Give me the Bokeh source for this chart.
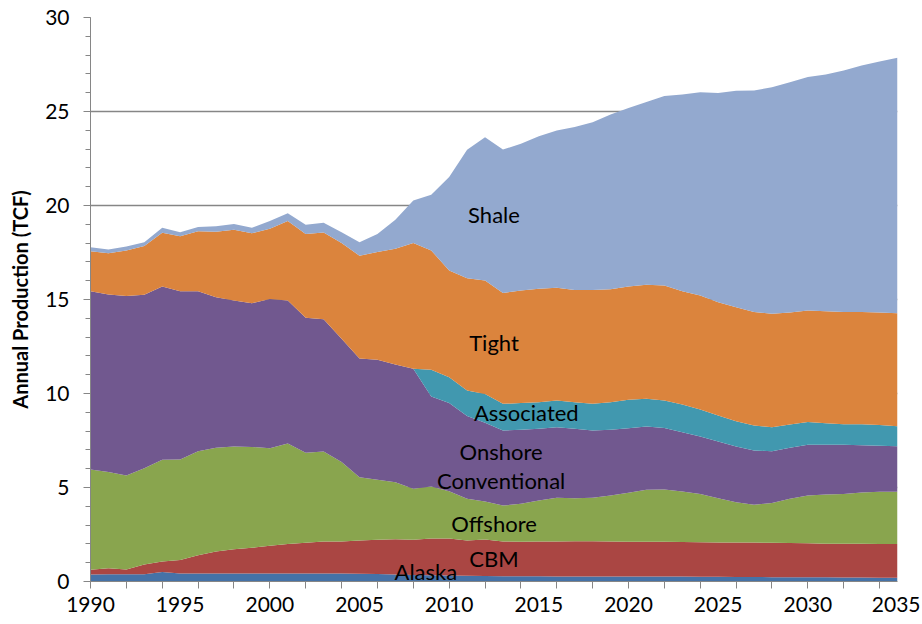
from bokeh.plotting import figure
from bokeh.models import ColumnDataSource, FixedTicker, Range1d, Label
from bokeh.embed import file_html
from bokeh.resources import INLINE

years = list(range(1990, 2036))

alaska = [0.37, 0.38, 0.38, 0.38, 0.50, 0.43, 0.43, 0.43, 0.43, 0.43, 0.43, 0.43, 0.43, 0.43, 0.42, 0.41,
          0.40, 0.37, 0.35, 0.33, 0.32, 0.30, 0.29, 0.28, 0.28, 0.28, 0.27, 0.27, 0.27, 0.27, 0.27, 0.27,
          0.26, 0.26, 0.25, 0.25, 0.24, 0.24, 0.23, 0.23, 0.22, 0.22, 0.21, 0.21, 0.20, 0.20]
cbm = [0.25, 0.33, 0.26, 0.52, 0.56, 0.72, 0.97, 1.17, 1.29, 1.36, 1.47, 1.57, 1.63, 1.70, 1.71, 1.77,
       1.82, 1.88, 1.87, 1.96, 1.97, 1.88, 1.94, 1.85, 1.83, 1.85, 1.86, 1.87, 1.87, 1.86, 1.84, 1.85,
       1.85, 1.84, 1.84, 1.83, 1.83, 1.83, 1.83, 1.82, 1.81, 1.79, 1.80, 1.80, 1.80, 1.80]
offshore = [5.34, 5.11, 5.00, 5.13, 5.41, 5.34, 5.53, 5.51, 5.46, 5.37, 5.19, 5.34, 4.79, 4.78, 4.22, 3.37,
            3.19, 3.03, 2.71, 2.76, 2.51, 2.22, 2.03, 1.91, 2.02, 2.18, 2.32, 2.29, 2.31, 2.44, 2.61, 2.76,
            2.78, 2.69, 2.57, 2.35, 2.15, 2.01, 2.11, 2.35, 2.54, 2.62, 2.65, 2.72, 2.77, 2.77]
onshore = [9.48, 9.45, 9.54, 9.22, 9.22, 8.95, 8.51, 8.01, 7.77, 7.64, 7.93, 7.61, 7.18, 7.04, 6.56, 6.31,
           6.38, 6.26, 6.38, 4.79, 4.70, 4.40, 4.19, 3.99, 3.94, 3.81, 3.75, 3.69, 3.58, 3.50, 3.43, 3.36,
           3.27, 3.15, 3.05, 3.02, 2.96, 2.89, 2.76, 2.71, 2.70, 2.64, 2.61, 2.52, 2.45, 2.43]
associated = [0, 0, 0, 0, 0, 0, 0, 0, 0, 0, 0, 0, 0, 0, 0, 0,
              0, 0, 0, 1.42, 1.37, 1.36, 1.53, 1.42, 1.42, 1.42, 1.43, 1.42, 1.42, 1.47, 1.52, 1.48,
              1.47, 1.47, 1.44, 1.38, 1.35, 1.33, 1.28, 1.24, 1.22, 1.15, 1.10, 1.12, 1.11, 1.06]
tight = [2.13, 2.19, 2.43, 2.59, 2.86, 2.93, 3.19, 3.48, 3.76, 3.73, 3.74, 4.22, 4.46, 4.61, 5.09, 5.47,
         5.73, 6.16, 6.70, 6.35, 5.67, 5.97, 6.03, 5.90, 5.99, 6.03, 5.99, 5.97, 6.05, 6.01, 6.02, 6.06,
         6.11, 6.03, 6.06, 6.03, 6.06, 6.03, 6.03, 5.96, 5.92, 5.96, 5.96, 5.96, 5.98, 6.01]
shale = [0.21, 0.20, 0.21, 0.21, 0.26, 0.21, 0.22, 0.30, 0.31, 0.28, 0.41, 0.42, 0.48, 0.52, 0.58, 0.72,
         0.97, 1.54, 2.26, 2.96, 4.97, 6.83, 7.62, 7.63, 7.80, 8.12, 8.37, 8.66, 8.93, 9.29, 9.50, 9.72,
         10.08, 10.46, 10.82, 11.13, 11.51, 11.79, 12.05, 12.25, 12.42, 12.59, 12.85, 13.12, 13.35, 13.59]

series_names = ["Alaska", "CBM", "Offshore", "Onshore Conventional", "Associated", "Tight", "Shale"]
series_keys = ["alaska", "cbm", "offshore", "onshore", "associated", "tight", "shale"]
colors = ["#4572A7", "#AA4643", "#89A54E", "#71588F", "#4198AF", "#DB843D", "#93A9CF"]

x_label_ticks = [1990, 1995, 2000, 2005, 2010, 2015, 2020, 2025, 2030, 2035]
x_minor_ticks = list(range(1990, 2035, 2))
y_major_ticks = [0, 5, 10, 15, 20, 25, 30]
y_minor_ticks = list(range(0, 31))

# in-chart labels (text and anchor position in data coordinates)
label_text = ["Shale", "Tight", "Associated", "Onshore", "Conventional", "Offshore", "CBM", "Alaska"]
label_x = [2012.5, 2012.5, 2014.3, 2012.9, 2012.9, 2012.5, 2012.5, 2008.7]
label_y = [19.5, 12.7, 9.0, 6.9, 5.37, 3.1, 1.22, 0.52]

src = ColumnDataSource(dict(year=years, alaska=alaska, cbm=cbm, offshore=offshore, onshore=onshore,
                            associated=associated, tight=tight, shale=shale))

p = figure(width=920, height=622, output_backend="svg", toolbar_location=None,
           x_range=Range1d(1990, 2035), y_range=Range1d(0, 30),
           min_border_left=90, min_border_right=23, min_border_top=17, min_border_bottom=41)
p.outline_line_color = None
p.background_fill_color = "white"
p.border_fill_color = "white"

p.varea_stack(stackers=series_keys, x="year", color=colors, source=src)

FONT = "Lato"
GRAY = "#868686"

for t, lx, ly in zip(label_text, label_x, label_y):
    p.add_layout(Label(x=lx, y=ly, text=t, text_align="center", text_baseline="middle",
                       text_font=FONT, text_font_size="22px", text_color="#000000"))

# x axis
p.xaxis.ticker = FixedTicker(ticks=x_label_ticks, minor_ticks=x_minor_ticks)
p.xaxis.major_tick_line_color = None
p.xaxis.major_tick_out = 7
p.xaxis.major_tick_in = 0
p.xaxis.minor_tick_out = 7
p.xaxis.minor_tick_in = 0
p.xaxis.minor_tick_line_color = GRAY
p.xaxis.axis_line_color = GRAY
p.xaxis.major_label_text_font = FONT
p.xaxis.major_label_text_font_size = "21px"
p.xaxis.major_label_text_color = "#000000"
p.xaxis.major_label_standoff = 8

# y axis
p.yaxis.ticker = FixedTicker(ticks=y_major_ticks, minor_ticks=y_minor_ticks)
p.yaxis.major_tick_out = 7
p.yaxis.major_tick_in = 0
p.yaxis.minor_tick_out = 5
p.yaxis.minor_tick_in = 0
p.yaxis.major_tick_line_color = GRAY
p.yaxis.minor_tick_line_color = GRAY
p.yaxis.axis_line_color = GRAY
p.yaxis.major_label_text_font = FONT
p.yaxis.major_label_text_font_size = "21px"
p.yaxis.major_label_text_color = "#000000"
p.yaxis.major_label_standoff = 14
p.yaxis.axis_label = "Annual Production (TCF)"
p.yaxis.axis_label_text_font = FONT
p.yaxis.axis_label_text_font_style = "bold"
p.yaxis.axis_label_text_font_size = "20px"
p.yaxis.axis_label_text_color = "#000000"
p.yaxis.axis_label_standoff = 10

p.xgrid.grid_line_color = None
p.ygrid.ticker = FixedTicker(ticks=y_major_ticks)
p.ygrid.grid_line_color = GRAY
p.ygrid.grid_line_width = 1.5

open("out.html", "w").write(file_html(p, INLINE))
